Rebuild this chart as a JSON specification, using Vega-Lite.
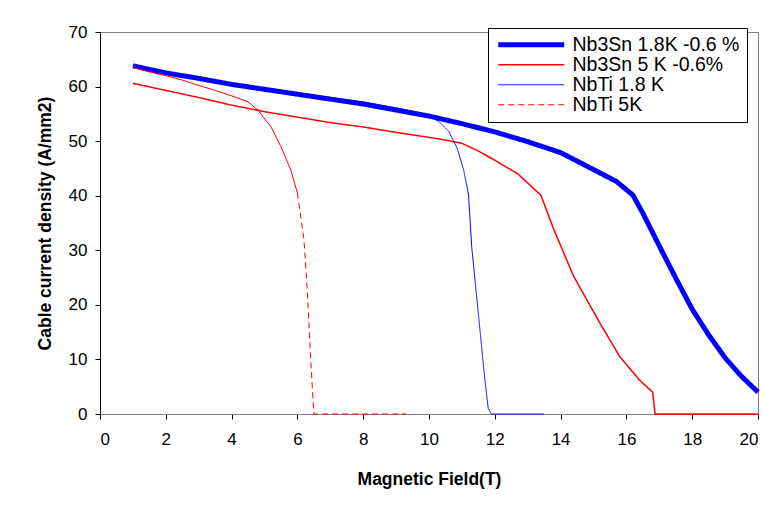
{
  "$schema": "https://vega.github.io/schema/vega-lite/v6.json",
  "width": 658,
  "height": 382,
  "autosize": {"type": "none"},
  "padding": {"left": 100, "top": 32, "right": 7, "bottom": 94},
  "background": "white",
  "config": {
    "font": "Liberation Sans",
    "view": {"stroke": "#808080", "strokeWidth": 1},
    "axis": {
      "domainColor": "#000000",
      "tickColor": "#000000",
      "tickSize": 5,
      "grid": false,
      "labelFont": "Liberation Sans",
      "labelFontSize": 17,
      "labelColor": "#000000",
      "titleFont": "Liberation Sans",
      "titleFontSize": 17.5,
      "titleFontWeight": "bold",
      "titleColor": "#000000"
    }
  },
  "datasets": {
    "curves": [
      {"s": "Nb3Sn 1.8K -0.6 %", "p": "main", "x": 1, "y": 63.8},
      {"s": "Nb3Sn 1.8K -0.6 %", "p": "main", "x": 2, "y": 62.5},
      {"s": "Nb3Sn 1.8K -0.6 %", "p": "main", "x": 3, "y": 61.5},
      {"s": "Nb3Sn 1.8K -0.6 %", "p": "main", "x": 4, "y": 60.4},
      {"s": "Nb3Sn 1.8K -0.6 %", "p": "main", "x": 5, "y": 59.5},
      {"s": "Nb3Sn 1.8K -0.6 %", "p": "main", "x": 6, "y": 58.6},
      {"s": "Nb3Sn 1.8K -0.6 %", "p": "main", "x": 7, "y": 57.7},
      {"s": "Nb3Sn 1.8K -0.6 %", "p": "main", "x": 8, "y": 56.8},
      {"s": "Nb3Sn 1.8K -0.6 %", "p": "main", "x": 9, "y": 55.7},
      {"s": "Nb3Sn 1.8K -0.6 %", "p": "main", "x": 10, "y": 54.6},
      {"s": "Nb3Sn 1.8K -0.6 %", "p": "main", "x": 11, "y": 53.2},
      {"s": "Nb3Sn 1.8K -0.6 %", "p": "main", "x": 12, "y": 51.7},
      {"s": "Nb3Sn 1.8K -0.6 %", "p": "main", "x": 13, "y": 49.9},
      {"s": "Nb3Sn 1.8K -0.6 %", "p": "main", "x": 14, "y": 47.9},
      {"s": "Nb3Sn 1.8K -0.6 %", "p": "main", "x": 15, "y": 44.8},
      {"s": "Nb3Sn 1.8K -0.6 %", "p": "main", "x": 15.7, "y": 42.6},
      {"s": "Nb3Sn 1.8K -0.6 %", "p": "main", "x": 16.2, "y": 40.1},
      {"s": "Nb3Sn 1.8K -0.6 %", "p": "main", "x": 16.5, "y": 36.8},
      {"s": "Nb3Sn 1.8K -0.6 %", "p": "main", "x": 17, "y": 30.8},
      {"s": "Nb3Sn 1.8K -0.6 %", "p": "main", "x": 17.5, "y": 24.9},
      {"s": "Nb3Sn 1.8K -0.6 %", "p": "main", "x": 18, "y": 19.2},
      {"s": "Nb3Sn 1.8K -0.6 %", "p": "main", "x": 18.5, "y": 14.5},
      {"s": "Nb3Sn 1.8K -0.6 %", "p": "main", "x": 19, "y": 10.3},
      {"s": "Nb3Sn 1.8K -0.6 %", "p": "main", "x": 19.5, "y": 6.9},
      {"s": "Nb3Sn 1.8K -0.6 %", "p": "main", "x": 20, "y": 4.0},

      {"s": "Nb3Sn 5 K -0.6%", "p": "main", "x": 1, "y": 60.6},
      {"s": "Nb3Sn 5 K -0.6%", "p": "main", "x": 2, "y": 59.3},
      {"s": "Nb3Sn 5 K -0.6%", "p": "main", "x": 3, "y": 58.0},
      {"s": "Nb3Sn 5 K -0.6%", "p": "main", "x": 4, "y": 56.6},
      {"s": "Nb3Sn 5 K -0.6%", "p": "main", "x": 5, "y": 55.4},
      {"s": "Nb3Sn 5 K -0.6%", "p": "main", "x": 6, "y": 54.4},
      {"s": "Nb3Sn 5 K -0.6%", "p": "main", "x": 7, "y": 53.4},
      {"s": "Nb3Sn 5 K -0.6%", "p": "main", "x": 8, "y": 52.6},
      {"s": "Nb3Sn 5 K -0.6%", "p": "main", "x": 9, "y": 51.6},
      {"s": "Nb3Sn 5 K -0.6%", "p": "main", "x": 10, "y": 50.7},
      {"s": "Nb3Sn 5 K -0.6%", "p": "main", "x": 10.5, "y": 50.2},
      {"s": "Nb3Sn 5 K -0.6%", "p": "main", "x": 11, "y": 49.6},
      {"s": "Nb3Sn 5 K -0.6%", "p": "main", "x": 11.5, "y": 48.2},
      {"s": "Nb3Sn 5 K -0.6%", "p": "main", "x": 12, "y": 46.5},
      {"s": "Nb3Sn 5 K -0.6%", "p": "main", "x": 12.7, "y": 44.0},
      {"s": "Nb3Sn 5 K -0.6%", "p": "main", "x": 13.4, "y": 40.1},
      {"s": "Nb3Sn 5 K -0.6%", "p": "main", "x": 13.8, "y": 33.7},
      {"s": "Nb3Sn 5 K -0.6%", "p": "main", "x": 14.4, "y": 25.2},
      {"s": "Nb3Sn 5 K -0.6%", "p": "main", "x": 15.2, "y": 16.6},
      {"s": "Nb3Sn 5 K -0.6%", "p": "main", "x": 15.8, "y": 10.5},
      {"s": "Nb3Sn 5 K -0.6%", "p": "main", "x": 16.4, "y": 6.2},
      {"s": "Nb3Sn 5 K -0.6%", "p": "main", "x": 16.8, "y": 4.0},
      {"s": "Nb3Sn 5 K -0.6%", "p": "main", "x": 16.87, "y": 0},
      {"s": "Nb3Sn 5 K -0.6%", "p": "main", "x": 20, "y": 0},

      {"s": "NbTi 1.8 K", "p": "main", "x": 1, "y": 63.9},
      {"s": "NbTi 1.8 K", "p": "main", "x": 2, "y": 62.7},
      {"s": "NbTi 1.8 K", "p": "main", "x": 3, "y": 61.7},
      {"s": "NbTi 1.8 K", "p": "main", "x": 4, "y": 60.6},
      {"s": "NbTi 1.8 K", "p": "main", "x": 5, "y": 59.7},
      {"s": "NbTi 1.8 K", "p": "main", "x": 6, "y": 58.8},
      {"s": "NbTi 1.8 K", "p": "main", "x": 7, "y": 58.0},
      {"s": "NbTi 1.8 K", "p": "main", "x": 8, "y": 57.2},
      {"s": "NbTi 1.8 K", "p": "main", "x": 9, "y": 56.1},
      {"s": "NbTi 1.8 K", "p": "main", "x": 9.5, "y": 55.5},
      {"s": "NbTi 1.8 K", "p": "main", "x": 10, "y": 54.6},
      {"s": "NbTi 1.8 K", "p": "main", "x": 10.3, "y": 53.6},
      {"s": "NbTi 1.8 K", "p": "main", "x": 10.6, "y": 51.8},
      {"s": "NbTi 1.8 K", "p": "main", "x": 10.85, "y": 48.8},
      {"s": "NbTi 1.8 K", "p": "main", "x": 11.05, "y": 44.8},
      {"s": "NbTi 1.8 K", "p": "main", "x": 11.2, "y": 40.3},
      {"s": "NbTi 1.8 K", "p": "main", "x": 11.3, "y": 30.5},
      {"s": "NbTi 1.8 K", "p": "main", "x": 11.5, "y": 18.4},
      {"s": "NbTi 1.8 K", "p": "main", "x": 11.7, "y": 6.2},
      {"s": "NbTi 1.8 K", "p": "main", "x": 11.8, "y": 1.0},
      {"s": "NbTi 1.8 K", "p": "main", "x": 11.9, "y": 0},
      {"s": "NbTi 1.8 K", "p": "main", "x": 13.5, "y": 0},

      {"s": "NbTi 5K", "p": "solid", "x": 1, "y": 63.5},
      {"s": "NbTi 5K", "p": "solid", "x": 1.5, "y": 62.7},
      {"s": "NbTi 5K", "p": "solid", "x": 2, "y": 62.0},
      {"s": "NbTi 5K", "p": "solid", "x": 2.5, "y": 61.2},
      {"s": "NbTi 5K", "p": "solid", "x": 3, "y": 60.2},
      {"s": "NbTi 5K", "p": "solid", "x": 3.5, "y": 59.3},
      {"s": "NbTi 5K", "p": "solid", "x": 4, "y": 58.3},
      {"s": "NbTi 5K", "p": "solid", "x": 4.5, "y": 57.2},
      {"s": "NbTi 5K", "p": "solid", "x": 4.8, "y": 55.7},
      {"s": "NbTi 5K", "p": "solid", "x": 5.2, "y": 52.6},
      {"s": "NbTi 5K", "p": "solid", "x": 5.5, "y": 49.0},
      {"s": "NbTi 5K", "p": "solid", "x": 5.8, "y": 44.7},
      {"s": "NbTi 5K", "p": "solid", "x": 6.0, "y": 40.5},
      {"s": "NbTi 5K", "p": "main", "x": 6.0, "y": 40.5},
      {"s": "NbTi 5K", "p": "main", "x": 6.2, "y": 31.9},
      {"s": "NbTi 5K", "p": "main", "x": 6.3, "y": 22.7},
      {"s": "NbTi 5K", "p": "main", "x": 6.4, "y": 10.5},
      {"s": "NbTi 5K", "p": "main", "x": 6.5, "y": 0},
      {"s": "NbTi 5K", "p": "main", "x": 9.3, "y": 0}
    ]
  },
  "layer": [
    {
      "data": {"name": "curves"},
      "transform": [{"filter": "datum.p === 'main'"}],
      "mark": {"type": "line", "clip": false},
      "encoding": {
        "x": {
          "field": "x", "type": "quantitative",
          "scale": {"domain": [0, 20], "nice": false},
          "axis": {"values": [0,2,4,6,8,10,12,14,16,18,20], "title": "Magnetic Field(T)", "labelPadding": 12, "titlePadding": 23, "domainColor": "#808080"}
        },
        "y": {
          "field": "y", "type": "quantitative",
          "scale": {"domain": [0, 70], "nice": false},
          "axis": {"values": [0,10,20,30,40,50,60,70], "title": "Cable current density (A/mm2)", "labelPadding": 8, "titlePadding": 14}
        },
        "color": {
          "field": "s", "type": "nominal",
          "scale": {"domain": ["Nb3Sn 1.8K -0.6 %", "Nb3Sn 5 K -0.6%", "NbTi 1.8 K", "NbTi 5K"], "range": ["#0000ff", "#ff0000", "#0000ff", "#ff0000"]},
          "legend": {
            "title": null,
            "orient": "none",
            "legendX": 388,
            "legendY": -4,
            "padding": 7,
            "strokeColor": "#000000",
            "fillColor": "#ffffff",
            "symbolType": "M-1.3,0H11.9",
            "symbolSize": 100,
            "labelOffset": 58,
            "labelFontSize": 19.5,
            "labelLimit": 400,
            "labelColor": "#000000",
            "rowPadding": -2
          }
        },
        "strokeWidth": {
          "field": "s", "type": "nominal",
          "scale": {"type": "ordinal", "domain": ["Nb3Sn 1.8K -0.6 %", "Nb3Sn 5 K -0.6%", "NbTi 1.8 K", "NbTi 5K"], "range": [5, 1.5, 1, 1]},
          "legend": null
        },
        "strokeDash": {
          "field": "s", "type": "nominal",
          "scale": {"domain": ["Nb3Sn 1.8K -0.6 %", "Nb3Sn 5 K -0.6%", "NbTi 1.8 K", "NbTi 5K"], "range": [[1, 0], [1, 0], [1, 0], [6, 4]]},
          "legend": null
        },
        "order": {"field": "x", "type": "quantitative"}
      }
    },
    {
      "data": {"name": "curves"},
      "transform": [{"filter": "datum.p === 'solid'"}],
      "mark": {"type": "line", "color": "#ff0000", "strokeWidth": 1},
      "encoding": {
        "x": {"field": "x", "type": "quantitative"},
        "y": {"field": "y", "type": "quantitative"},
        "order": {"field": "x", "type": "quantitative"}
      }
    }
  ]
}
